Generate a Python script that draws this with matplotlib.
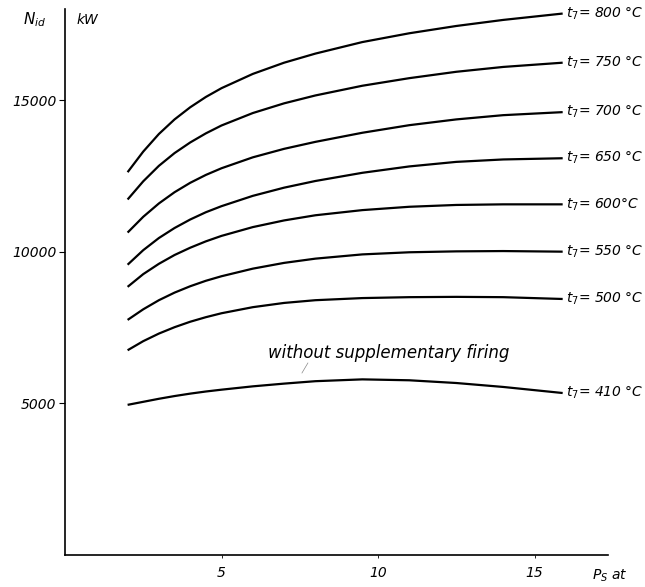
import matplotlib
matplotlib.use("Agg")
import matplotlib.pyplot as plt

# Data: supercharger pressure P_S (at) vs ideal power N_id (kW)
pressure = [2, 2.5, 3, 3.5, 4, 4.5, 5, 6, 7, 8, 9.5, 11, 12.5, 14, 15.9]
series_labels = ["800 °C", "750 °C", "700 °C", "650 °C", "600°C", "550 °C", "500 °C", "410 °C"]
n_800 = [12620, 13300, 13880, 14360, 14760, 15100, 15390, 15860, 16230, 16530, 16910, 17200, 17440, 17640, 17850]
n_750 = [11720, 12320, 12830, 13250, 13600, 13900, 14160, 14570, 14890, 15150, 15470, 15720, 15930, 16090, 16230]
n_700 = [10630, 11150, 11590, 11960, 12270, 12530, 12750, 13110, 13390, 13620, 13920, 14170, 14360, 14500, 14600]
n_650 = [9570, 10050, 10450, 10780, 11060, 11300, 11500, 11840, 12110, 12330, 12600, 12810, 12960, 13040, 13080]
n_600 = [8840, 9260, 9600, 9890, 10130, 10340, 10520, 10810, 11030, 11200, 11370, 11480, 11540, 11560, 11560]
n_550 = [7750, 8100, 8400, 8650, 8860, 9040, 9190, 9440, 9630, 9770, 9910, 9980, 10010, 10020, 10000]
n_500 = [6750, 7050, 7300, 7510, 7690, 7840, 7970, 8170, 8310, 8400, 8470, 8500, 8510, 8500, 8440]
n_410 = [4950, 5050, 5150, 5240, 5320, 5390, 5450, 5560, 5650, 5730, 5790, 5760, 5670, 5540, 5340]
series = [n_800, n_750, n_700, n_650, n_600, n_550, n_500, n_410]

x_ticks = [5, 10, 15]
y_ticks = [5000, 10000, 15000]

W, H = 645, 587
fig = plt.figure(figsize=(W / 100, H / 100), dpi=100)
left, right, bottom, top = 65, 608, 555, 9
ax = fig.add_axes([left / W, 1 - bottom / H, (right - left) / W, (bottom - top) / H])
ax.set_xlim(0, (right - left) / 31.3)
ax.set_ylim(0, 18000 * (bottom - top) / 546)

for vals, lab in zip(series, series_labels):
    ax.plot(pressure, vals, color="black", lw=1.6, solid_capstyle="butt")
    ax.text(pressure[-1] + 0.1, vals[-1], r"$t_7$" + "= " + lab, fontsize=10,
            style="italic", va="center", ha="left")

ax.text(6.5, 6650, "without supplementary firing", fontsize=12, style="italic",
        va="center", ha="left")
ax.plot([7.76, 7.57], [6330, 6000], color="#888888", lw=0.5)

for s in ["top", "right"]:
    ax.spines[s].set_visible(False)
for s in ["left", "bottom"]:
    ax.spines[s].set_linewidth(1.2)

ax.set_xticks(x_ticks)
ax.set_yticks(y_ticks)
ax.tick_params(axis="x", length=2, width=0.6, pad=6, labelsize=10)
ax.tick_params(axis="y", length=4, width=0.8, pad=2, labelsize=10)
for t in ax.get_xticklabels() + ax.get_yticklabels():
    t.set_fontstyle("italic")

fig.text(23 / W, 1 - 20 / H, r"$N_{id}$", fontsize=11, va="center", ha="left")
fig.text(77 / W, 1 - 20 / H, "kW", fontsize=10, style="italic", va="center", ha="left")
fig.text(592 / W, 1 - 576 / H, r"$P_S$ at", fontsize=10, style="italic", va="center", ha="left")

fig.savefig("out.png", dpi=100)
